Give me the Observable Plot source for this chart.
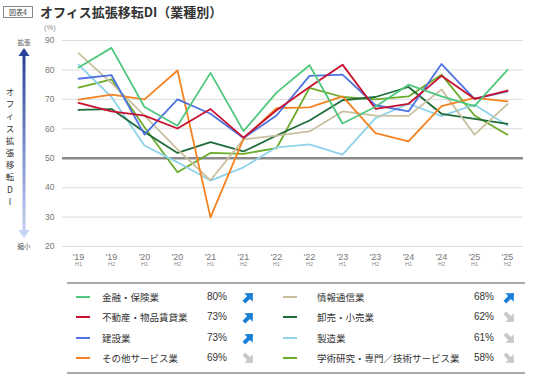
<!DOCTYPE html>
<html><head><meta charset="utf-8">
<script src="https://cdn.jsdelivr.net/npm/d3@7"></script>
<script src="https://cdn.jsdelivr.net/npm/@observablehq/plot@0.6"></script>
<style>
body{margin:0;background:#fff;}
#root{position:relative;width:536px;height:375px;overflow:hidden;font-family:"Liberation Sans","Noto Sans CJK JP",sans-serif;color:#333;}
.abs{position:absolute;white-space:nowrap;}
</style></head>
<body><div id="root"></div>
<script>
const years = ["'19","'19","'20","'20","'21","'21","'22","'22","'23","'23","'24","'24","'25","'25"];
const halves = ["H1","H2","H1","H2","H1","H2","H1","H2","H1","H2","H1","H2","H1","H2"];
const yTicks = [20,30,40,50,60,70,80,90];
const names = ["金融・保険業","不動産・物品賃貸業","建設業","その他サービス業","情報通信業","卸売・小売業","製造業","学術研究・専門／技術サービス業"];
const colors = ["#4fc77d","#c8102e","#4f73e0","#f58220","#c9bf9f","#1f6b3a","#8fd3ea","#6aab2b"];
const finance   = [80.8,87.5,67.4,61.0,79.0,59.2,72.3,81.6,61.8,67.5,75.0,71.0,67.7,80.0];
const realty    = [68.8,65.9,64.5,60.1,66.7,57.0,66.3,74.2,81.8,66.8,68.5,78.0,70.2,73.0];
const constr    = [77.0,78.2,58.0,70.0,65.1,56.9,64.5,78.0,78.4,68.0,65.9,82.0,70.2,72.7];
const otherSvc  = [69.9,71.6,70.0,79.8,29.9,56.6,67.0,67.3,71.0,58.5,55.7,67.7,70.5,69.3];
const infoCom   = [85.7,75.5,64.5,53.0,42.5,56.4,57.7,59.1,65.9,64.5,64.4,73.4,58.0,68.4];
const wholesale = [66.4,66.7,58.9,51.8,55.5,52.3,57.7,62.8,69.7,70.8,74.2,65.1,63.4,61.7];
const manuf     = [81.8,70.8,54.3,48.6,42.4,46.9,53.7,54.7,51.2,63.6,68.5,64.3,68.2,61.1];
const academic  = [74.0,76.8,60.5,45.2,51.8,51.5,53.4,73.9,70.8,70.0,71.0,78.4,64.5,58.0];
const seriesVals = [finance,realty,constr,otherSvc,infoCom,wholesale,manuf,academic];
const trendUp = [true,true,true,false,true,false,false,false];

const rows = [];
seriesVals.forEach((vals,k)=>vals.forEach((v,i)=>rows.push({name:names[k],i,v})));
const drawOrder = names.slice().reverse();
const rowsOrdered = drawOrder.flatMap(n=>rows.filter(r=>r.name===n));

const root = document.getElementById("root");

const chart = Plot.plot({
  width:536, height:283,
  marginTop:40, marginBottom:37, marginLeft:62, marginRight:13,
  style:{fontFamily:'"Liberation Sans","Noto Sans CJK JP",sans-serif',background:"transparent"},
  x:{type:"linear",domain:[-0.485,13.485]},
  y:{domain:[20,90]},
  color:{domain:names,range:colors},
  marks:[
    Plot.gridY(yTicks,{stroke:"#dcdcdc",strokeOpacity:1,strokeWidth:1}),
    Plot.ruleY([50],{stroke:"#8a8a8a",strokeWidth:2.5}),
    Plot.lineY(rowsOrdered,{x:"i",y:"v",z:"name",stroke:"name",strokeWidth:1.8}),
    Plot.axisY(yTicks,{tickSize:0,tickPadding:8,fontSize:8.5,fill:"#777",label:null}),
    Plot.axisX(d3.range(14),{tickSize:0,tickPadding:7,fontSize:9,fill:"#777",tickFormat:i=>years[i],label:null}),
    Plot.axisX(d3.range(14),{tickSize:0,tickPadding:16,fontSize:5.5,fill:"#888",tickFormat:i=>halves[i],label:null})
  ]
});
chart.style.position="absolute";chart.style.left="0px";chart.style.top="0px";
root.appendChild(chart);

function add(html,css){const d=document.createElement("div");d.className="abs";d.innerHTML=html;Object.assign(d.style,css);root.appendChild(d);return d;}

// title
add("図表4",{left:"3px",top:"6px",width:"30px",height:"12px",border:"1px solid #888",fontSize:"7px",lineHeight:"11px",textAlign:"center",color:"#444",boxSizing:"border-box",fontFamily:'"Noto Sans CJK JP",sans-serif'});
add("オフィス拡張移転DI（業種別）",{left:"40px",top:"3px",fontSize:"13px",fontWeight:"bold",color:"#333",lineHeight:"17px",fontFamily:'"Noto Sans CJK JP",sans-serif'});
add("(%)",{left:"44px",top:"23px",fontSize:"7.5px",color:"#888"});

// left arrow decoration
const ns="http://www.w3.org/2000/svg";
const dec=document.createElementNS(ns,"svg");
dec.setAttribute("width","40");dec.setAttribute("height","260");
dec.style.position="absolute";dec.style.left="0px";dec.style.top="0px";
dec.innerHTML=`<defs><linearGradient id="ag" x1="0" y1="0" x2="0" y2="1">
<stop offset="0" stop-color="#223f94"/><stop offset="1" stop-color="#c9d6f7"/></linearGradient></defs>
<polygon fill="url(#ag)" points="24,48 29.5,56 25.5,56 25.5,230 29.5,230 24,238 18.5,230 22.5,230 22.5,56 18.5,56"/>
<text x="24" y="45" text-anchor="middle" font-size="6.5" fill="#555" font-family="Noto Sans CJK JP">拡張</text>
<text x="24" y="249" text-anchor="middle" font-size="6.5" fill="#555" font-family="Noto Sans CJK JP">縮小</text>`;
const vt="オフィス拡張移転DI";
[...vt].forEach((c,k)=>{const t=document.createElementNS(ns,"text");t.setAttribute("x","10");t.setAttribute("y",String(95+k*12.2));t.setAttribute("text-anchor","middle");t.setAttribute("font-size","8.5");t.setAttribute("fill","#333");t.setAttribute("font-family","Noto Sans CJK JP");t.textContent=c;dec.appendChild(t);});
root.appendChild(dec);

// legend rules
add("",{left:"67px",top:"282px",width:"458px",height:"2px",background:"#a8a8a8"});
add("",{left:"67px",top:"372px",width:"458px",height:"2px",background:"#a8a8a8"});

function arrowSvg(up){
  const col=up?"#1b7fd6":"#c9c9c9";const rot=up?-45:45;
  return `<svg width="13" height="13" viewBox="0 0 12 12"><g transform="rotate(${rot} 6 6)"><polygon fill="${col}" points="0,4.2 6,4.2 6,0.5 11.8,6 6,11.5 6,7.8 0,7.8"/></g></svg>`;
}
names.forEach((n,k)=>{
  const col=k<4?0:1, row=k%4;
  const y=Math.round(297+row*20.3);
  const sx=col?283:76, lx=col?317:102, px=col?474:207, ax=col?503:242;
  add("",{left:sx+"px",top:(y-1)+"px",width:"14px",height:"2px",background:colors[k]});
  add(n,{left:lx+"px",top:(y-7)+"px",fontSize:"9.5px",lineHeight:"14px",fontFamily:'"Noto Sans CJK JP",sans-serif',color:"#333"});
  const last=seriesVals[k][seriesVals[k].length-1];
  add(Math.round(last)+"%",{left:px+"px",top:(y-7)+"px",fontSize:"10px",lineHeight:"14px",color:"#333"});
  add(arrowSvg(trendUp[k]),{left:ax+"px",top:(y-7)+"px",width:"13px",height:"13px"});
});
</script></body></html>
